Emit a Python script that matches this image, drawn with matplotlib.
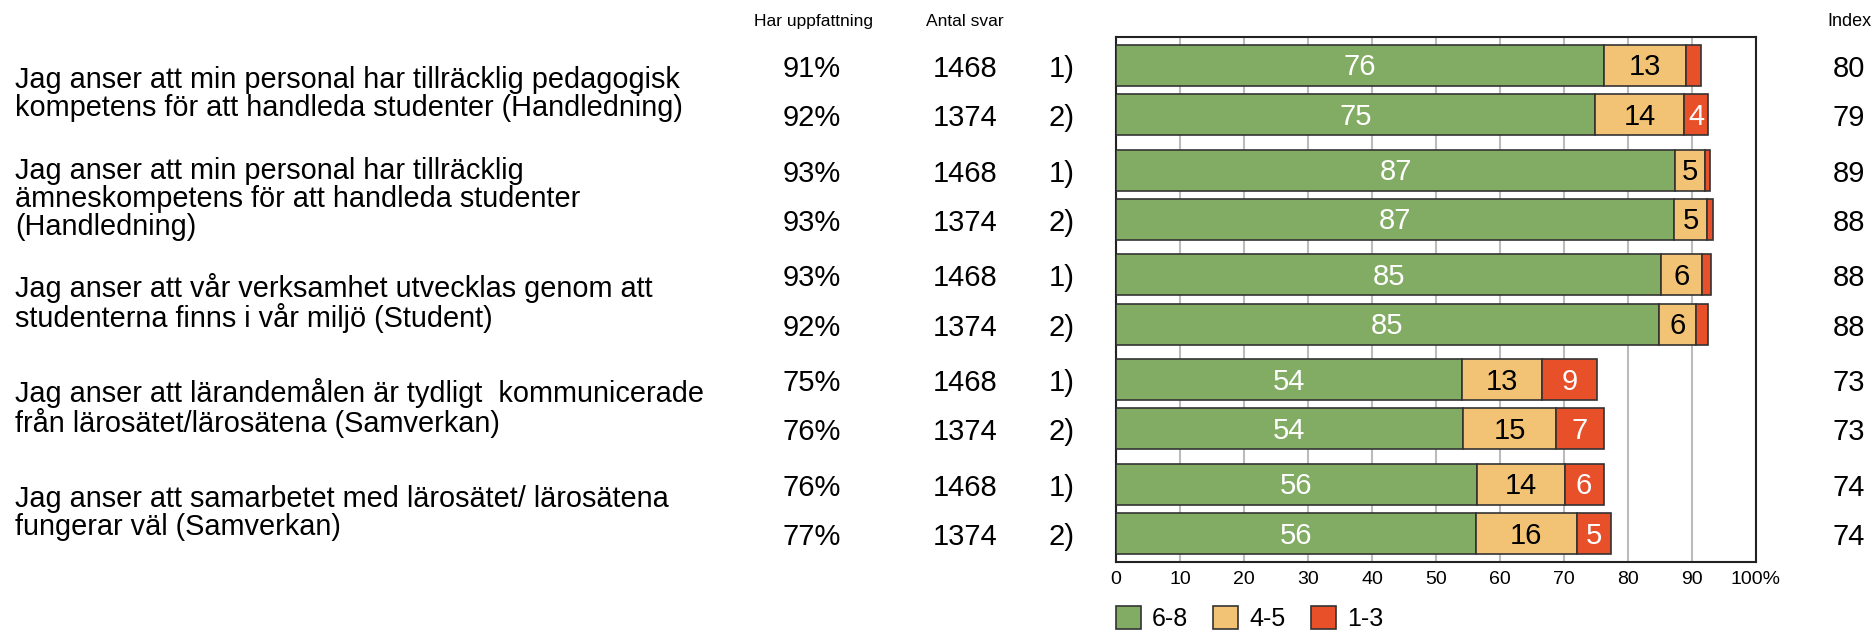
import matplotlib
matplotlib.use('Agg')
import matplotlib.pyplot as plt
from matplotlib.transforms import blended_transform_factory

plt.rcParams['font.family'] = ['Liberation Sans', 'DejaVu Sans']

questions = [
    'Jag anser att min personal har tillräcklig pedagogisk\nkompetens för att handleda studenter (Handledning)',
    'Jag anser att min personal har tillräcklig\nämneskompetens för att handleda studenter\n(Handledning)',
    'Jag anser att vår verksamhet utvecklas genom att\nstudenterna finns i vår miljö (Student)',
    'Jag anser att lärandemålen är tydligt  kommunicerade\nfrån lärosätet/lärosätena (Samverkan)',
    'Jag anser att samarbetet med lärosätet/ lärosätena\nfungerar väl (Samverkan)',
]
har_uppfattning = [91, 92, 93, 93, 93, 92, 75, 76, 76, 77]
antal_svar = [1468, 1374, 1468, 1374, 1468, 1374, 1468, 1374, 1468, 1374]
omgang = ['1)', '2)'] * 5
index = [80, 79, 89, 88, 88, 88, 73, 73, 74, 74]

high = [76.2, 74.9, 87.4, 87.2, 85.2, 84.8, 54.0, 54.2, 56.4, 56.2]   # 6-8
mid = [12.8, 13.9, 4.6, 5.2, 6.4, 5.8, 12.6, 14.6, 13.7, 15.8]        # 4-5
low = [2.4, 3.7, 0.8, 0.9, 1.4, 1.9, 8.6, 7.4, 6.1, 5.4]              # 1-3

green = '#82ac64'
orange = '#f2c375'
red = '#e8502a'
edge = '#333333'

# bar positions: pairs of bars, groups separated by a wider gap
pitch = 2.128
ypos = []
for g in range(len(questions)):
    ypos += [g * pitch, g * pitch + 1]

fig = plt.figure(figsize=(18.74, 6.31), dpi=100)
ax = fig.add_axes([0.5955, 0.1098, 0.3415, 0.8311])

left_mid = [h for h in high]
left_low = [h + m for h, m in zip(high, mid)]
b1 = ax.barh(ypos, high, height=0.83, color=green, edgecolor=edge, linewidth=1.2, label='6-8', zorder=3)
b2 = ax.barh(ypos, mid, left=left_mid, height=0.83, color=orange, edgecolor=edge, linewidth=1.2, label='4-5', zorder=3)
b3 = ax.barh(ypos, low, left=left_low, height=0.83, color=red, edgecolor=edge, linewidth=1.2, label='1-3', zorder=3)

for bars, vals, col in [(b1, high, 'white'), (b2, mid, 'black'), (b3, low, 'white')]:
    for rect, v in zip(bars, vals):
        if v < 3.5:
            continue
        ax.text(rect.get_x() + rect.get_width() / 2, rect.get_y() + rect.get_height() / 2 + 0.04,
                str(int(round(v))), ha='center', va='center', color=col, fontsize=21, zorder=4)

ax.set_xlim(0, 100)
ax.set_ylim(ypos[-1] + 0.57, ypos[0] - 0.57)
ax.set_xticks(range(0, 101, 10))
ax.set_xticklabels([str(t) for t in range(0, 100, 10)] + ['100%'])
ax.tick_params(axis='x', length=0, labelsize=14, pad=7)
ax.set_yticks([])
ax.grid(axis='x', color='#bbbbbb', linewidth=1.5, zorder=0)
for s in ax.spines.values():
    s.set_color('#222222')
    s.set_linewidth(1.5)

ax.legend(loc='upper left', bbox_to_anchor=(0, -0.085), ncol=3, frameon=False,
          handlelength=1.0, handleheight=1.0, columnspacing=1.0, handletextpad=0.45,
          borderaxespad=0, borderpad=0, fontsize=18)

tr = blended_transform_factory(fig.transFigure, ax.transData)
for g, q in enumerate(questions):
    ax.text(0.008, g * pitch + 0.58, q, transform=tr, ha='left', va='center',
            fontsize=20.8, linespacing=1.0, clip_on=False)

for y, h, n, o, ix in zip(ypos, har_uppfattning, antal_svar, omgang, index):
    y = y + 0.07
    ax.text(0.433, y, f'{h}%', transform=tr, ha='center', va='center', fontsize=21, clip_on=False)
    ax.text(0.515, y, str(n), transform=tr, ha='center', va='center', fontsize=21, clip_on=False)
    ax.text(0.5735, y, o, transform=tr, ha='right', va='center', fontsize=21, clip_on=False)
    ax.text(0.9865, y, str(ix), transform=tr, ha='center', va='center', fontsize=21, clip_on=False)

fig.text(0.434, 0.966, 'Har uppfattning', ha='center', va='center', fontsize=12.5)
fig.text(0.515, 0.966, 'Antal svar', ha='center', va='center', fontsize=12.5)
fig.text(0.987, 0.966, 'Index', ha='center', va='center', fontsize=13)

fig.savefig('out.png', dpi=100)
